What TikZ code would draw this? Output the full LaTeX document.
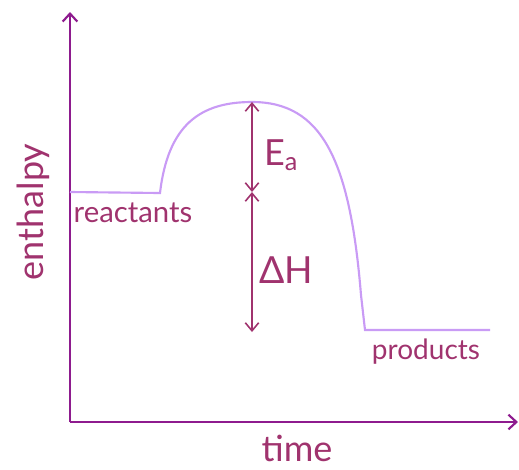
\documentclass[tikz,border=0pt]{standalone}
\usepackage{fontspec}
\setmainfont{Lato}
\usetikzlibrary{arrows.meta, positioning}
\definecolor{enthaxis}{HTML}{8E1B8E}
\definecolor{enthcurve}{HTML}{C99BF5}
\definecolor{enthtext}{HTML}{A0336E}

\begin{document}
\begin{tikzpicture}[
    x=0.75pt, y=-0.75pt,
    axis/.style={draw=enthaxis, line width=1.6pt, -{Straight Barb[length=6pt, width=11pt, line width=1.6pt]}},
    curve/.style={draw=enthcurve, line width=1.6pt},
    gap/.style={draw=enthtext, line width=1.2pt, {Straight Barb[length=6pt, width=10pt, line width=1.2pt]}-{Straight Barb[length=6pt, width=10pt, line width=1.2pt]}},
    lbl/.style={text=enthtext, inner sep=0pt, font=\fontsize{#1}{#1}\selectfont},
    lbl/.default=18
  ]
    \useasboundingbox (0,0) rectangle (519,469);
    % axes
    \coordinate (origin) at (70,422);
    \coordinate (ytop) at (70,12);
    \coordinate (xend) at (518,422);
    \draw[axis] (origin) -- (ytop);
    \draw[axis] (origin) -- (xend);
    % reaction profile
    \coordinate (r0) at (70,192);
    \coordinate (r1) at (160,193);
    \coordinate (peak) at (252,102);
    \coordinate (p0) at (365,330);
    \coordinate (p1) at (490,330);
    \draw[curve] (r0) -- (r1) .. controls (168,125) and (200,102) .. (peak)
      .. controls (322,102) and (350,160) .. (361,295) -- (p0) -- (p1);
    % energy gaps
    \coordinate (mid) at (252,192);
    \coordinate (base) at (252,332);
    \draw[gap] (peak) -- (mid);
    \draw[gap] (mid) -- (base);
    % labels
    \node[lbl=27] (ea) at (281,155) {E\textsubscript{a}};
    \node[lbl=28] (dh) at (286,270) {ΔH};
    \node[lbl=22] (react) at (133,213) {reactants};
    \node[lbl=21] (prod) at (426,352) {products};
    \node[lbl=27] (time) at (297,448) {time};
    \node[lbl=27, rotate=90] (enth) at (33,212) {enthalpy};
\end{tikzpicture}
\end{document}
